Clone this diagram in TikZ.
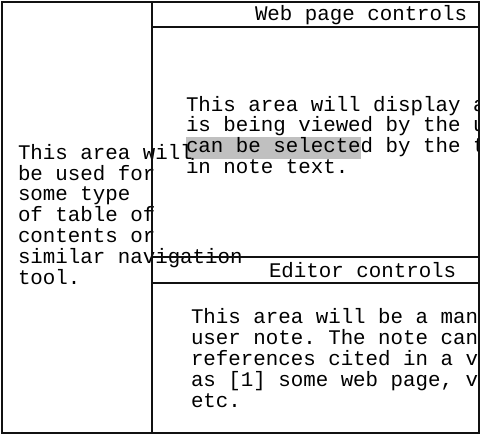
\documentclass[tikz,border=0pt]{standalone}
\usepackage{fontspec}
\setmonofont{Liberation Mono}
\definecolor{hlgray}{RGB}{192,192,192}
\definecolor{linecol}{RGB}{17,17,17}
\begin{document}
\begin{tikzpicture}[x=1pt,y=-1pt,
  panel/.style={draw=linecol, line width=2pt, anchor=north west, inner sep=0pt, outer sep=0pt},
  txt/.style={font=\ttfamily\fontsize{20.8}{20.8}\selectfont, anchor=base west, inner sep=0pt, outer sep=0pt, align=left, text=black},
  highlight/.style={fill=hlgray, draw=none, anchor=north west, inner sep=0pt, outer sep=0pt}
]
\useasboundingbox (0,0) rectangle (481,435);
% highlight behind selected text
\node[highlight, minimum width=174.7pt, minimum height=22pt] (hl) at (186,136.7) {};
% texts of the right panels, clipped at the frame (base = last line)
\begin{scope}
  \clip (152,0) rectangle (478.5,435);
  \node[txt] (webhead text) at (255,20.7) {Web page controls};
  \node[txt] (web text) at (186,173.6) {This area will display a\\is being viewed by the u\\can be selected by the t\\in note text.};
  \node[txt] (edhead text) at (269,277.3) {Editor controls};
  \node[txt] (editor text) at (191,407) {This area will be a man\\user note. The note can\\references cited in a v\\as [1] some web page, v\\etc.};
\end{scope}
% text of the left panel (runs over)
\node[txt] (left text) at (18,284) {This area will\\be used for\\some type\\of table of\\contents or\\similar navigation\\tool.};
% frames
\node[panel, minimum width=150pt, minimum height=431pt] (left) at (2,2) {};
\node[panel, minimum width=327pt, minimum height=25.5pt] (webhead) at (152,2) {};
\node[panel, minimum width=327pt, minimum height=229.5pt] (web) at (152,27.5) {};
\node[panel, minimum width=327pt, minimum height=26pt] (edhead) at (152,257) {};
\node[panel, minimum width=327pt, minimum height=150pt] (editor) at (152,283) {};
\end{tikzpicture}
\end{document}
